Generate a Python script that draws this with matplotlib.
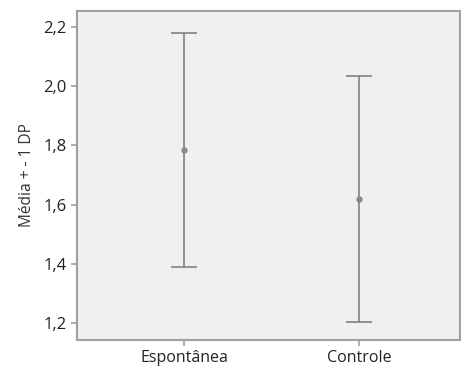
import numpy as np
import matplotlib.pyplot as plt

grupos = ["Espontânea", "Controle"]
media = [1.786, 1.619]
limite_sup = [2.180, 2.033]
limite_inf = [1.390, 1.203]
yticks = [1.2, 1.4, 1.6, 1.8, 2.0, 2.2]

plt.rcParams['font.family'] = ['Open Sans', 'DejaVu Sans']

fig = plt.figure(figsize=(4.61, 3.69), dpi=100)
ax = fig.add_axes([77 / 461, 1 - 340 / 369, 383 / 461, 329 / 369])
ax.set_facecolor('#f0f0f0')

x = np.arange(len(grupos))
media = np.array(media)
err = [media - np.array(limite_inf), np.array(limite_sup) - media]
ax.errorbar(x, media, yerr=err, fmt='o', color='#8a8a8a', ecolor='#8a8a8a',
            markersize=3.6, elinewidth=1.3, capsize=9.4, capthick=1.3)

ax.set_xlim(-0.611, 1.577)
ax.set_ylim(1.1426, 2.254)
ax.set_xticks(x)
ax.set_xticklabels(grupos, fontsize=11.5)
ax.set_yticks(yticks)
ax.set_yticklabels([f"{v:.1f}".replace('.', ',') for v in yticks], fontsize=12)
ax.set_ylabel("Média + - 1 DP", fontsize=11.2, color='#333333', labelpad=6)

for s in ax.spines.values():
    s.set_color('#a0a0a0')
    s.set_linewidth(1.5)
ax.tick_params(colors='#a0a0a0', labelcolor='#222222', length=4, width=1.2)

fig.savefig('out.png', dpi=100)
